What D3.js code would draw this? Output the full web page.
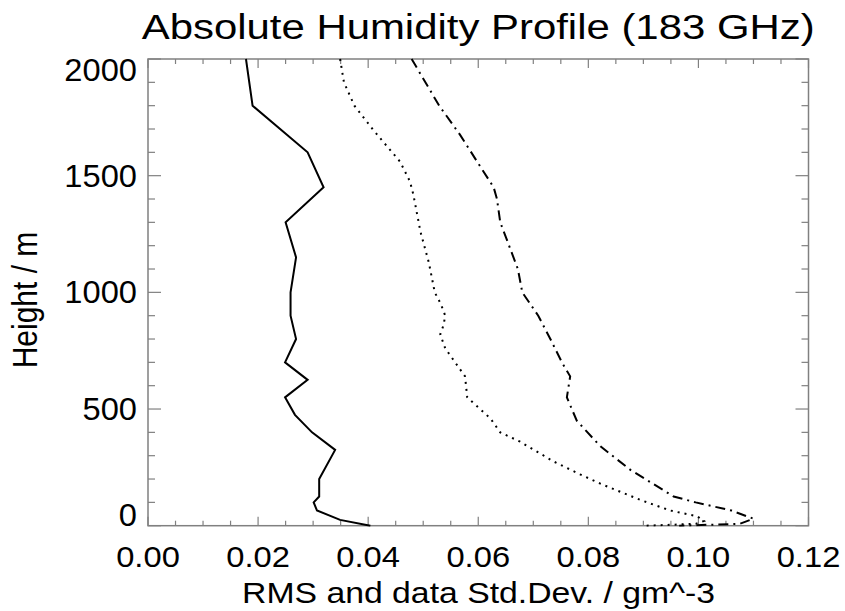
<!DOCTYPE html>
<html><head><meta charset="utf-8">
<script src="https://cdn.jsdelivr.net/npm/d3@7"></script>
<style>body{margin:0;background:#fff}svg{display:block}text{font-family:"Liberation Sans",Arial,sans-serif;fill:#000}</style>
</head><body>
<svg id="c" width="845" height="611"></svg>
<script>
const titleText = "Absolute Humidity Profile (183 GHz)";
const xLabel = "RMS and data Std.Dev. / gm^-3";
const yLabel = "Height / m";
const xTicks = [0, 0.02, 0.04, 0.06, 0.08, 0.10, 0.12];
const xTickLabels = ["0.00","0.02","0.04","0.06","0.08","0.10","0.12"];
const yTicks = [0, 500, 1000, 1500, 2000];
const yTickLabels = ["0","500","1000","1500","2000"];

// RMS (solid)
const rmsHeight = [2000,1800,1600,1450,1300,1150,1000,900,800,700,625,550,475,400,325,200,125,100,65,25,0];
const rmsValue  = [0.0178,0.0190,0.0290,0.0319,0.0250,0.0269,0.0259,0.0259,0.0269,0.0249,0.0290,0.0249,0.0267,0.0298,0.0340,0.0311,0.0311,0.0301,0.0307,0.0349,0.0404];
// dotted
const dotHeight = [2000,1900,1800,1700,1660,1560,1475,1420,1260,1130,1000,950,900,860,820,760,640,550,460,400,360,275,220,180,110,65,40,20,8,0];
const dotValue  = [0.0349,0.0356,0.0375,0.0408,0.0422,0.0458,0.0476,0.0482,0.0495,0.0510,0.0521,0.0532,0.0540,0.0537,0.0531,0.0540,0.0576,0.0580,0.0622,0.0640,0.0676,0.0737,0.0785,0.0822,0.0895,0.0949,0.0998,0.1010,0.0995,0.0905];
// dash-dot
const ddHeight = [2000,1800,1675,1560,1450,1400,1300,1200,1100,1000,900,800,700,640,550,450,340,240,125,100,65,30,8,0];
const ddValue  = [0.0479,0.0529,0.0567,0.0598,0.0628,0.0634,0.0640,0.0656,0.0672,0.0680,0.0709,0.0731,0.0752,0.0767,0.0761,0.0779,0.0822,0.0876,0.0955,0.0995,0.1060,0.1100,0.1075,0.0965];

const L=148, R=808.5, T=59, B=525.7;
const x = d3.scaleLinear().domain([0,0.12]).range([L,R]);
const y = d3.scaleLinear().domain([0,2000]).range([B,T]);
const svg = d3.select("#c");
const axisCol = "#808080";

function stretch(sel, f){
  const n = sel.node();
  const w = n.getComputedTextLength();
  sel.attr("textLength", w*f).attr("lengthAdjust","spacingAndGlyphs");
  return sel;
}

// frame
svg.append("rect").attr("x",L).attr("y",T).attr("width",R-L).attr("height",B-T)
  .attr("fill","none").attr("stroke",axisCol).attr("stroke-width",1.5);

const xMinor = d3.range(0, 0.1201, 0.005);
xMinor.forEach(v=>{
  const major = Math.abs(v/0.02 - Math.round(v/0.02))<1e-6;
  const len = major?9:5;
  svg.append("line").attr("x1",x(v)).attr("x2",x(v)).attr("y1",B).attr("y2",B-len).attr("stroke",axisCol).attr("stroke-width",1.2);
  svg.append("line").attr("x1",x(v)).attr("x2",x(v)).attr("y1",T).attr("y2",T+len).attr("stroke",axisCol).attr("stroke-width",1.2);
});
const yMinor = d3.range(0, 2001, 100);
yMinor.forEach(h=>{
  const major = h%500===0;
  const len = major?13:7;
  svg.append("line").attr("x1",L).attr("x2",L+len).attr("y1",y(h)).attr("y2",y(h)).attr("stroke",axisCol).attr("stroke-width",1.2);
  svg.append("line").attr("x1",R).attr("x2",R-len).attr("y1",y(h)).attr("y2",y(h)).attr("stroke",axisCol).attr("stroke-width",1.2);
});

xTicks.forEach((v,i)=>{
  stretch(svg.append("text").attr("x",x(v)).attr("y",566.5).attr("text-anchor","middle")
    .attr("font-size",30).text(xTickLabels[i]), 1.09);
});
yTicks.forEach((h,i)=>{
  let by = y(h)+11;
  if (by < T+22) by = T+22;
  if (by > B) by = B;
  stretch(svg.append("text").attr("x",137).attr("y",by).attr("text-anchor","end")
    .attr("font-size",30.5).text(yTickLabels[i]), 1.07);
});

// titles
const tt = svg.append("text").attr("x",141.7).attr("y",38.5).attr("font-size",35.5).text(titleText);
tt.attr("textLength",673).attr("lengthAdjust","spacingAndGlyphs");
const xl = svg.append("text").attr("x",242).attr("y",603).attr("font-size",30).text(xLabel);
xl.attr("textLength",473).attr("lengthAdjust","spacingAndGlyphs");
svg.append("text").attr("transform","translate(36.7,300) scale(1.16,1) rotate(-90)").attr("text-anchor","middle").attr("font-size",30).text(yLabel);

// lines
const line = d3.line().x(d=>x(d[1])).y(d=>y(d[0]));
svg.append("clipPath").attr("id","pc").append("rect").attr("x",L).attr("y",T-1).attr("width",R-L).attr("height",B-T+2);
const g = svg.append("g").attr("clip-path","url(#pc)");
g.append("path").datum(d3.zip(rmsHeight,rmsValue)).attr("d",line).attr("fill","none").attr("stroke","#000").attr("stroke-width",2);
g.append("path").datum(d3.zip(dotHeight,dotValue)).attr("d",line).attr("fill","none").attr("stroke","#000").attr("stroke-width",2).attr("stroke-dasharray","2,5");
g.append("path").datum(d3.zip(ddHeight,ddValue)).attr("d",line).attr("fill","none").attr("stroke","#000").attr("stroke-width",2).attr("stroke-dasharray","10,5,2,5");
</script>
</body></html>
